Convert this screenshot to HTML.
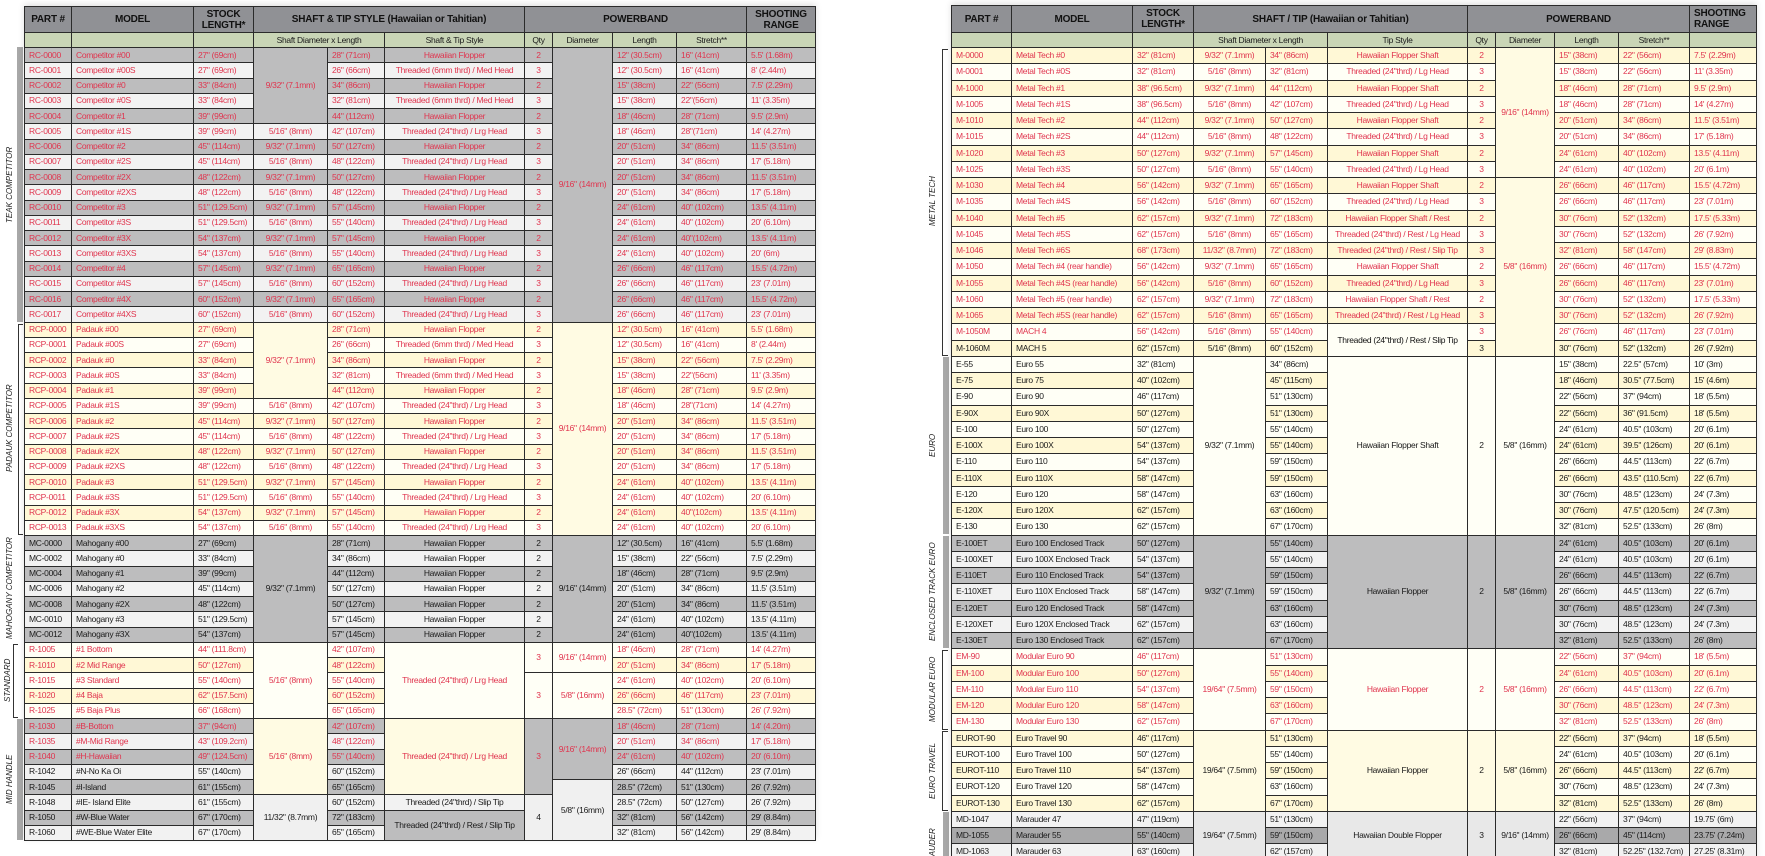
<!DOCTYPE html>
<html><head><meta charset="utf-8">
<style>
html,body{margin:0;padding:0;background:#fff;width:1765px;height:856px;overflow:hidden;position:relative}
table{position:absolute;border-collapse:collapse;table-layout:fixed;font-family:"Liberation Sans",sans-serif;font-size:8.5px;letter-spacing:-0.3px;color:#1a1a1a;box-shadow:0 -2px 6px rgba(0,0,0,0.12)}
td{border:1px solid #2b2b2b;padding:0 0 0 4px;white-space:nowrap;overflow:hidden;height:14px;line-height:13px}
#L tr.d{height:15.25px}
#R tr.d{height:16.25px}
.hd td{background:#909195;font-weight:bold;font-size:10px;letter-spacing:-0.2px;text-align:center;line-height:11px;color:#111;padding:0}
.sh td{background:#c9d5b6;text-align:center;padding:0;font-size:8.5px}
td.c{text-align:center;padding:0}
.g td{background:#bdbdbe}
.l td{background:#f2f2f2}
.w td{background:#fffff6}
.y td{background:#fff8d6}
.k td{background:#a9a9aa}
.r td{color:#e0344e}
.b td{color:#1a1a1a}
tr td.mg{background:#bdbdbe}
tr td.ml{background:#f0f0f0}
tr td.mc{background:#fffbe3}
tr td.mw{background:#fffff6}
tr td.me{background:#e8e8e8}
.lab{position:absolute;font-family:"Liberation Sans",sans-serif;font-style:italic;font-size:8px;color:#222;writing-mode:vertical-rl;transform:rotate(180deg);text-align:center;white-space:nowrap}
.bar{position:absolute;background:#a8a8a8}
.brk{position:absolute;border:1px solid #333;border-right:none}
</style></head><body>

<div class="bar" style="left:17px;top:47px;width:6px;height:275px"></div>
<div class="lab" style="left:5px;top:47px;height:275px;line-height:10px">TEAK COMPETITOR</div>
<div class="brk" style="left:18px;top:324px;width:4px;height:209px"></div>
<div class="lab" style="left:5px;top:322px;height:213px;line-height:10px">PADAUK COMPETITOR</div>
<div class="lab" style="left:5px;top:535px;height:107px;line-height:10px">MAHOGANY COMPETITOR</div>
<div class="brk" style="left:13px;top:644px;width:4px;height:72px"></div>
<div class="lab" style="left:3px;top:642px;height:76px;line-height:10px">STANDARD</div>
<div class="bar" style="left:17px;top:719px;width:6px;height:121px"></div>
<div class="lab" style="left:5px;top:718px;height:122px;line-height:10px">MID HANDLE</div>

<div class="brk" style="left:942px;top:49px;width:5px;height:305px"></div>
<div class="lab" style="left:928px;top:47px;height:309px;line-height:10px">METAL TECH</div>
<div class="bar" style="left:943px;top:357px;width:6px;height:177px"></div>
<div class="lab" style="left:928px;top:356px;height:179px;line-height:10px">EURO</div>
<div class="bar" style="left:943px;top:536px;width:6px;height:112px"></div>
<div class="lab" style="left:928px;top:535px;height:114px;line-height:10px">ENCLOSED TRACK EURO</div>
<div class="brk" style="left:942px;top:650px;width:5px;height:78px"></div>
<div class="lab" style="left:928px;top:649px;height:81px;line-height:10px">MODULAR EURO</div>
<div class="brk" style="left:942px;top:731px;width:5px;height:78px"></div>
<div class="lab" style="left:928px;top:730px;height:81px;line-height:10px">EURO TRAVEL</div>
<div class="bar" style="left:943px;top:812px;width:6px;height:50px"></div>
<div class="lab" style="left:928px;top:811px;height:80px;line-height:10px">MARAUDER</div>

<table id="L" style="left:24px;top:6px;width:791px">
<colgroup><col style="width:47px"><col style="width:122px"><col style="width:60px"><col style="width:74px"><col style="width:57px"><col style="width:140px"><col style="width:28px"><col style="width:60px"><col style="width:64px"><col style="width:70px"><col style="width:69px"></colgroup>
<tr class="hd" style="height:26px"><td>PART #</td><td>MODEL</td><td>STOCK<br>LENGTH*</td><td colspan="3">SHAFT &amp; TIP STYLE (Hawaiian or Tahitian)</td><td colspan="4">POWERBAND</td><td>SHOOTING<br>RANGE</td></tr>
<tr class="sh" style="height:15px"><td></td><td></td><td></td><td colspan="2">Shaft Diameter x Length</td><td>Shaft &amp; Tip Style</td><td>Qty</td><td>Diameter</td><td>Length</td><td>Stretch**</td><td></td></tr>

<tr class="d g r"><td>RC-0000</td><td>Competitor #00</td><td>27" (69cm)</td><td rowspan="5" class="c mg">9/32" (7.1mm)</td><td>28" (71cm)</td><td class="c">Hawaiian Flopper</td><td class="c">2</td><td rowspan="18" class="c mg">9/16" (14mm)</td><td>12" (30.5cm)</td><td>16" (41cm)</td><td>5.5' (1.68m)</td></tr>
<tr class="d l r"><td>RC-0001</td><td>Competitor #00S</td><td>27" (69cm)</td><td>26" (66cm)</td><td class="c">Threaded (6mm thrd) / Med Head</td><td class="c">3</td><td>12" (30.5cm)</td><td>16" (41cm)</td><td>8' (2.44m)</td></tr>
<tr class="d g r"><td>RC-0002</td><td>Competitor #0</td><td>33" (84cm)</td><td>34" (86cm)</td><td class="c">Hawaiian Flopper</td><td class="c">2</td><td>15" (38cm)</td><td>22" (56cm)</td><td>7.5' (2.29m)</td></tr>
<tr class="d l r"><td>RC-0003</td><td>Competitor #0S</td><td>33" (84cm)</td><td>32" (81cm)</td><td class="c">Threaded (6mm thrd) / Med Head</td><td class="c">3</td><td>15" (38cm)</td><td>22"(56cm)</td><td>11' (3.35m)</td></tr>
<tr class="d g r"><td>RC-0004</td><td>Competitor #1</td><td>39" (99cm)</td><td>44" (112cm)</td><td class="c">Hawaiian Flopper</td><td class="c">2</td><td>18" (46cm)</td><td>28" (71cm)</td><td>9.5' (2.9m)</td></tr>
<tr class="d l r"><td>RC-0005</td><td>Competitor #1S</td><td>39" (99cm)</td><td class="c">5/16" (8mm)</td><td>42" (107cm)</td><td class="c">Threaded (24"thrd) / Lrg Head</td><td class="c">3</td><td>18" (46cm)</td><td>28"(71cm)</td><td>14' (4.27m)</td></tr>
<tr class="d g r"><td>RC-0006</td><td>Competitor #2</td><td>45" (114cm)</td><td class="c">9/32" (7.1mm)</td><td>50" (127cm)</td><td class="c">Hawaiian Flopper</td><td class="c">2</td><td>20" (51cm)</td><td>34" (86cm)</td><td>11.5' (3.51m)</td></tr>
<tr class="d l r"><td>RC-0007</td><td>Competitor #2S</td><td>45" (114cm)</td><td class="c">5/16" (8mm)</td><td>48" (122cm)</td><td class="c">Threaded (24"thrd) / Lrg Head</td><td class="c">3</td><td>20" (51cm)</td><td>34" (86cm)</td><td>17' (5.18m)</td></tr>
<tr class="d g r"><td>RC-0008</td><td>Competitor #2X</td><td>48" (122cm)</td><td class="c">9/32" (7.1mm)</td><td>50" (127cm)</td><td class="c">Hawaiian Flopper</td><td class="c">2</td><td>20" (51cm)</td><td>34" (86cm)</td><td>11.5' (3.51m)</td></tr>
<tr class="d l r"><td>RC-0009</td><td>Competitor #2XS</td><td>48" (122cm)</td><td class="c">5/16" (8mm)</td><td>48" (122cm)</td><td class="c">Threaded (24"thrd) / Lrg Head</td><td class="c">3</td><td>20" (51cm)</td><td>34" (86cm)</td><td>17' (5.18m)</td></tr>
<tr class="d g r"><td>RC-0010</td><td>Competitor #3</td><td>51" (129.5cm)</td><td class="c">9/32" (7.1mm)</td><td>57" (145cm)</td><td class="c">Hawaiian Flopper</td><td class="c">2</td><td>24" (61cm)</td><td>40" (102cm)</td><td>13.5' (4.11m)</td></tr>
<tr class="d l r"><td>RC-0011</td><td>Competitor #3S</td><td>51" (129.5cm)</td><td class="c">5/16" (8mm)</td><td>55" (140cm)</td><td class="c">Threaded (24"thrd) / Lrg Head</td><td class="c">3</td><td>24" (61cm)</td><td>40" (102cm)</td><td>20' (6.10m)</td></tr>
<tr class="d g r"><td>RC-0012</td><td>Competitor #3X</td><td>54" (137cm)</td><td class="c">9/32" (7.1mm)</td><td>57" (145cm)</td><td class="c">Hawaiian Flopper</td><td class="c">2</td><td>24" (61cm)</td><td>40"(102cm)</td><td>13.5' (4.11m)</td></tr>
<tr class="d l r"><td>RC-0013</td><td>Competitor #3XS</td><td>54" (137cm)</td><td class="c">5/16" (8mm)</td><td>55" (140cm)</td><td class="c">Threaded (24"thrd) / Lrg Head</td><td class="c">3</td><td>24" (61cm)</td><td>40" (102cm)</td><td>20' (6m)</td></tr>
<tr class="d g r"><td>RC-0014</td><td>Competitor #4</td><td>57" (145cm)</td><td class="c">9/32" (7.1mm)</td><td>65" (165cm)</td><td class="c">Hawaiian Flopper</td><td class="c">2</td><td>26" (66cm)</td><td>46" (117cm)</td><td>15.5' (4.72m)</td></tr>
<tr class="d l r"><td>RC-0015</td><td>Competitor #4S</td><td>57" (145cm)</td><td class="c">5/16" (8mm)</td><td>60" (152cm)</td><td class="c">Threaded (24"thrd) / Lrg Head</td><td class="c">3</td><td>26" (66cm)</td><td>46" (117cm)</td><td>23' (7.01m)</td></tr>
<tr class="d g r"><td>RC-0016</td><td>Competitor #4X</td><td>60" (152cm)</td><td class="c">9/32" (7.1mm)</td><td>65" (165cm)</td><td class="c">Hawaiian Flopper</td><td class="c">2</td><td>26" (66cm)</td><td>46" (117cm)</td><td>15.5' (4.72m)</td></tr>
<tr class="d l r"><td>RC-0017</td><td>Competitor #4XS</td><td>60" (152cm)</td><td class="c">5/16" (8mm)</td><td>60" (152cm)</td><td class="c">Threaded (24"thrd) / Lrg Head</td><td class="c">3</td><td>26" (66cm)</td><td>46" (117cm)</td><td>23' (7.01m)</td></tr>

<tr class="d y r"><td>RCP-0000</td><td>Padauk #00</td><td>27" (69cm)</td><td rowspan="5" class="c mc">9/32" (7.1mm)</td><td>28" (71cm)</td><td class="c">Hawaiian Flopper</td><td class="c">2</td><td rowspan="14" class="c mc">9/16" (14mm)</td><td>12" (30.5cm)</td><td>16" (41cm)</td><td>5.5' (1.68m)</td></tr>
<tr class="d w r"><td>RCP-0001</td><td>Padauk #00S</td><td>27" (69cm)</td><td>26" (66cm)</td><td class="c">Threaded (6mm thrd) / Med Head</td><td class="c">3</td><td>12" (30.5cm)</td><td>16" (41cm)</td><td>8' (2.44m)</td></tr>
<tr class="d y r"><td>RCP-0002</td><td>Padauk #0</td><td>33" (84cm)</td><td>34" (86cm)</td><td class="c">Hawaiian Flopper</td><td class="c">2</td><td>15" (38cm)</td><td>22" (56cm)</td><td>7.5' (2.29m)</td></tr>
<tr class="d w r"><td>RCP-0003</td><td>Padauk #0S</td><td>33" (84cm)</td><td>32" (81cm)</td><td class="c">Threaded (6mm thrd) / Med Head</td><td class="c">3</td><td>15" (38cm)</td><td>22"(56cm)</td><td>11' (3.35m)</td></tr>
<tr class="d y r"><td>RCP-0004</td><td>Padauk #1</td><td>39" (99cm)</td><td>44" (112cm)</td><td class="c">Hawaiian Flopper</td><td class="c">2</td><td>18" (46cm)</td><td>28" (71cm)</td><td>9.5' (2.9m)</td></tr>
<tr class="d w r"><td>RCP-0005</td><td>Padauk #1S</td><td>39" (99cm)</td><td class="c">5/16" (8mm)</td><td>42" (107cm)</td><td class="c">Threaded (24"thrd) / Lrg Head</td><td class="c">3</td><td>18" (46cm)</td><td>28"(71cm)</td><td>14' (4.27m)</td></tr>
<tr class="d y r"><td>RCP-0006</td><td>Padauk #2</td><td>45" (114cm)</td><td class="c">9/32" (7.1mm)</td><td>50" (127cm)</td><td class="c">Hawaiian Flopper</td><td class="c">2</td><td>20" (51cm)</td><td>34" (86cm)</td><td>11.5' (3.51m)</td></tr>
<tr class="d w r"><td>RCP-0007</td><td>Padauk #2S</td><td>45" (114cm)</td><td class="c">5/16" (8mm)</td><td>48" (122cm)</td><td class="c">Threaded (24"thrd) / Lrg Head</td><td class="c">3</td><td>20" (51cm)</td><td>34" (86cm)</td><td>17' (5.18m)</td></tr>
<tr class="d y r"><td>RCP-0008</td><td>Padauk #2X</td><td>48" (122cm)</td><td class="c">9/32" (7.1mm)</td><td>50" (127cm)</td><td class="c">Hawaiian Flopper</td><td class="c">2</td><td>20" (51cm)</td><td>34" (86cm)</td><td>11.5' (3.51m)</td></tr>
<tr class="d w r"><td>RCP-0009</td><td>Padauk #2XS</td><td>48" (122cm)</td><td class="c">5/16" (8mm)</td><td>48" (122cm)</td><td class="c">Threaded (24"thrd) / Lrg Head</td><td class="c">3</td><td>20" (51cm)</td><td>34" (86cm)</td><td>17' (5.18m)</td></tr>
<tr class="d y r"><td>RCP-0010</td><td>Padauk #3</td><td>51" (129.5cm)</td><td class="c">9/32" (7.1mm)</td><td>57" (145cm)</td><td class="c">Hawaiian Flopper</td><td class="c">2</td><td>24" (61cm)</td><td>40" (102cm)</td><td>13.5' (4.11m)</td></tr>
<tr class="d w r"><td>RCP-0011</td><td>Padauk #3S</td><td>51" (129.5cm)</td><td class="c">5/16" (8mm)</td><td>55" (140cm)</td><td class="c">Threaded (24"thrd) / Lrg Head</td><td class="c">3</td><td>24" (61cm)</td><td>40" (102cm)</td><td>20' (6.10m)</td></tr>
<tr class="d y r"><td>RCP-0012</td><td>Padauk #3X</td><td>54" (137cm)</td><td class="c">9/32" (7.1mm)</td><td>57" (145cm)</td><td class="c">Hawaiian Flopper</td><td class="c">2</td><td>24" (61cm)</td><td>40"(102cm)</td><td>13.5' (4.11m)</td></tr>
<tr class="d w r"><td>RCP-0013</td><td>Padauk #3XS</td><td>54" (137cm)</td><td class="c">5/16" (8mm)</td><td>55" (140cm)</td><td class="c">Threaded (24"thrd) / Lrg Head</td><td class="c">3</td><td>24" (61cm)</td><td>40" (102cm)</td><td>20' (6.10m)</td></tr>

<tr class="d g b"><td>MC-0000</td><td>Mahogany #00</td><td>27" (69cm)</td><td rowspan="7" class="c mg">9/32" (7.1mm)</td><td>28" (71cm)</td><td class="c">Hawaiian Flopper</td><td class="c">2</td><td rowspan="7" class="c mg">9/16" (14mm)</td><td>12" (30.5cm)</td><td>16" (41cm)</td><td>5.5' (1.68m)</td></tr>
<tr class="d l b"><td>MC-0002</td><td>Mahogany #0</td><td>33" (84cm)</td><td>34" (86cm)</td><td class="c">Hawaiian Flopper</td><td class="c">2</td><td>15" (38cm)</td><td>22" (56cm)</td><td>7.5' (2.29m)</td></tr>
<tr class="d g b"><td>MC-0004</td><td>Mahogany #1</td><td>39" (99cm)</td><td>44" (112cm)</td><td class="c">Hawaiian Flopper</td><td class="c">2</td><td>18" (46cm)</td><td>28" (71cm)</td><td>9.5' (2.9m)</td></tr>
<tr class="d l b"><td>MC-0006</td><td>Mahogany #2</td><td>45" (114cm)</td><td>50" (127cm)</td><td class="c">Hawaiian Flopper</td><td class="c">2</td><td>20" (51cm)</td><td>34" (86cm)</td><td>11.5' (3.51m)</td></tr>
<tr class="d g b"><td>MC-0008</td><td>Mahogany #2X</td><td>48" (122cm)</td><td>50" (127cm)</td><td class="c">Hawaiian Flopper</td><td class="c">2</td><td>20" (51cm)</td><td>34" (86cm)</td><td>11.5' (3.51m)</td></tr>
<tr class="d l b"><td>MC-0010</td><td>Mahogany #3</td><td>51" (129.5cm)</td><td>57" (145cm)</td><td class="c">Hawaiian Flopper</td><td class="c">2</td><td>24" (61cm)</td><td>40" (102cm)</td><td>13.5' (4.11m)</td></tr>
<tr class="d g b"><td>MC-0012</td><td>Mahogany #3X</td><td>54" (137cm)</td><td>57" (145cm)</td><td class="c">Hawaiian Flopper</td><td class="c">2</td><td>24" (61cm)</td><td>40"(102cm)</td><td>13.5' (4.11m)</td></tr>

<tr class="d w r"><td>R-1005</td><td>#1 Bottom</td><td>44" (111.8cm)</td><td rowspan="5" class="c mw">5/16" (8mm)</td><td>42" (107cm)</td><td rowspan="5" class="c mw">Threaded (24"thrd) / Lrg Head</td><td rowspan="2" class="c mw">3</td><td rowspan="2" class="c mw">9/16" (14mm)</td><td>18" (46cm)</td><td>28" (71cm)</td><td>14' (4.27m)</td></tr>
<tr class="d y r"><td>R-1010</td><td>#2 Mid Range</td><td>50" (127cm)</td><td>48" (122cm)</td><td>20" (51cm)</td><td>34" (86cm)</td><td>17' (5.18m)</td></tr>
<tr class="d w r"><td>R-1015</td><td>#3 Standard</td><td>55" (140cm)</td><td>55" (140cm)</td><td rowspan="3" class="c mw">3</td><td rowspan="3" class="c mw">5/8" (16mm)</td><td>24" (61cm)</td><td>40" (102cm)</td><td>20' (6.10m)</td></tr>
<tr class="d y r"><td>R-1020</td><td>#4 Baja</td><td>62" (157.5cm)</td><td>60" (152cm)</td><td>26" (66cm)</td><td>46" (117cm)</td><td>23' (7.01m)</td></tr>
<tr class="d w r"><td>R-1025</td><td>#5 Baja Plus</td><td>66" (168cm)</td><td>65" (165cm)</td><td>28.5" (72cm)</td><td>51" (130cm)</td><td>26' (7.92m)</td></tr>

<tr class="d g r"><td>R-1030</td><td>#B-Bottom</td><td>37" (94cm)</td><td rowspan="5" class="c mc">5/16" (8mm)</td><td>42" (107cm)</td><td rowspan="5" class="c mc">Threaded (24"thrd) / Lrg Head</td><td rowspan="5" class="c mg">3</td><td rowspan="4" class="c mg">9/16" (14mm)</td><td>18" (46cm)</td><td>28" (71cm)</td><td>14' (4.20m)</td></tr>
<tr class="d l r"><td>R-1035</td><td>#M-Mid Range</td><td>43" (109.2cm)</td><td>48" (122cm)</td><td>20" (51cm)</td><td>34" (86cm)</td><td>17' (5.18m)</td></tr>
<tr class="d g r"><td>R-1040</td><td>#H-Hawaiian</td><td>49" (124.5cm)</td><td>55" (140cm)</td><td>24" (61cm)</td><td>40" (102cm)</td><td>20' (6.10m)</td></tr>
<tr class="d l b"><td>R-1042</td><td>#N-No Ka Oi</td><td>55" (140cm)</td><td>60" (152cm)</td><td>26" (66cm)</td><td>44" (112cm)</td><td>23' (7.01m)</td></tr>
<tr class="d g b"><td>R-1045</td><td>#I-Island</td><td>61" (155cm)</td><td>65" (165cm)</td><td rowspan="4" class="c ml">5/8" (16mm)</td><td>28.5" (72cm)</td><td>51" (130cm)</td><td>26' (7.92m)</td></tr>
<tr class="d l b"><td>R-1048</td><td>#IE- Island Elite</td><td>61" (155cm)</td><td rowspan="3" class="c ml">11/32" (8.7mm)</td><td>60" (152cm)</td><td class="c">Threaded (24"thrd) / Slip Tip</td><td rowspan="3" class="c ml">4</td><td>28.5" (72cm)</td><td>50" (127cm)</td><td>26' (7.92m)</td></tr>
<tr class="d g b"><td>R-1050</td><td>#W-Blue Water</td><td>67" (170cm)</td><td>72" (183cm)</td><td rowspan="2" class="c mg">Threaded (24"thrd) / Rest / Slip Tip</td><td>32" (81cm)</td><td>56" (142cm)</td><td>29' (8.84m)</td></tr>
<tr class="d l b"><td>R-1060</td><td>#WE-Blue Water Elite</td><td>67" (170cm)</td><td>65" (165cm)</td><td>32" (81cm)</td><td>56" (142cm)</td><td>29' (8.84m)</td></tr>
</table>

<table id="R" style="left:951px;top:5px;width:805px">
<colgroup><col style="width:60px"><col style="width:121px"><col style="width:61px"><col style="width:72px"><col style="width:62px"><col style="width:140px"><col style="width:28px"><col style="width:59px"><col style="width:64px"><col style="width:71px"><col style="width:67px"></colgroup>
<tr class="hd" style="height:27px"><td>PART #</td><td>MODEL</td><td>STOCK<br>LENGTH*</td><td colspan="3">SHAFT / TIP (Hawaiian or Tahitian)</td><td colspan="4">POWERBAND</td><td style="text-align:left;padding-left:4px">SHOOTING<br>RANGE</td></tr>
<tr class="sh" style="height:15px"><td></td><td></td><td></td><td colspan="2">Shaft Diameter x Length</td><td>Tip Style</td><td>Qty</td><td>Diameter</td><td>Length</td><td>Stretch**</td><td></td></tr>

<tr class="d y r"><td>M-0000</td><td>Metal Tech #0</td><td>32" (81cm)</td><td class="c">9/32" (7.1mm)</td><td>34" (86cm)</td><td class="c">Hawaiian Flopper Shaft</td><td class="c">2</td><td rowspan="8" class="c mc">9/16" (14mm)</td><td>15" (38cm)</td><td>22" (56cm)</td><td>7.5' (2.29m)</td></tr>
<tr class="d w r"><td>M-0001</td><td>Metal Tech #0S</td><td>32" (81cm)</td><td class="c">5/16" (8mm)</td><td>32" (81cm)</td><td class="c">Threaded (24"thrd) / Lg Head</td><td class="c">3</td><td>15" (38cm)</td><td>22" (56cm)</td><td>11' (3.35m)</td></tr>
<tr class="d y r"><td>M-1000</td><td>Metal Tech #1</td><td>38" (96.5cm)</td><td class="c">9/32" (7.1mm)</td><td>44" (112cm)</td><td class="c">Hawaiian Flopper Shaft</td><td class="c">2</td><td>18" (46cm)</td><td>28" (71cm)</td><td>9.5' (2.9m)</td></tr>
<tr class="d w r"><td>M-1005</td><td>Metal Tech #1S</td><td>38" (96.5cm)</td><td class="c">5/16" (8mm)</td><td>42" (107cm)</td><td class="c">Threaded (24"thrd) / Lg Head</td><td class="c">3</td><td>18" (46cm)</td><td>28" (71cm)</td><td>14' (4.27m)</td></tr>
<tr class="d y r"><td>M-1010</td><td>Metal Tech #2</td><td>44" (112cm)</td><td class="c">9/32" (7.1mm)</td><td>50" (127cm)</td><td class="c">Hawaiian Flopper Shaft</td><td class="c">2</td><td>20" (51cm)</td><td>34" (86cm)</td><td>11.5' (3.51m)</td></tr>
<tr class="d w r"><td>M-1015</td><td>Metal Tech #2S</td><td>44" (112cm)</td><td class="c">5/16" (8mm)</td><td>48" (122cm)</td><td class="c">Threaded (24"thrd) / Lg Head</td><td class="c">3</td><td>20" (51cm)</td><td>34" (86cm)</td><td>17' (5.18m)</td></tr>
<tr class="d y r"><td>M-1020</td><td>Metal Tech #3</td><td>50" (127cm)</td><td class="c">9/32" (7.1mm)</td><td>57" (145cm)</td><td class="c">Hawaiian Flopper Shaft</td><td class="c">2</td><td>24" (61cm)</td><td>40" (102cm)</td><td>13.5' (4.11m)</td></tr>
<tr class="d w r"><td>M-1025</td><td>Metal Tech #3S</td><td>50" (127cm)</td><td class="c">5/16" (8mm)</td><td>55" (140cm)</td><td class="c">Threaded (24"thrd) / Lg Head</td><td class="c">3</td><td>24" (61cm)</td><td>40" (102cm)</td><td>20' (6.1m)</td></tr>
<tr class="d y r"><td>M-1030</td><td>Metal Tech #4</td><td>56" (142cm)</td><td class="c">9/32" (7.1mm)</td><td>65" (165cm)</td><td class="c">Hawaiian Flopper Shaft</td><td class="c">2</td><td rowspan="11" class="c mc">5/8" (16mm)</td><td>26" (66cm)</td><td>46" (117cm)</td><td>15.5' (4.72m)</td></tr>
<tr class="d w r"><td>M-1035</td><td>Metal Tech #4S</td><td>56" (142cm)</td><td class="c">5/16" (8mm)</td><td>60" (152cm)</td><td class="c">Threaded (24"thrd) / Lg Head</td><td class="c">3</td><td>26" (66cm)</td><td>46" (117cm)</td><td>23' (7.01m)</td></tr>
<tr class="d y r"><td>M-1040</td><td>Metal Tech #5</td><td>62" (157cm)</td><td class="c">9/32" (7.1mm)</td><td>72" (183cm)</td><td class="c">Hawaiian Flopper Shaft / Rest</td><td class="c">2</td><td>30" (76cm)</td><td>52" (132cm)</td><td>17.5' (5.33m)</td></tr>
<tr class="d w r"><td>M-1045</td><td>Metal Tech #5S</td><td>62" (157cm)</td><td class="c">5/16" (8mm)</td><td>65" (165cm)</td><td class="c">Threaded (24"thrd) / Rest / Lg Head</td><td class="c">3</td><td>30" (76cm)</td><td>52" (132cm)</td><td>26' (7.92m)</td></tr>
<tr class="d y r"><td>M-1046</td><td>Metal Tech #6S</td><td>68" (173cm)</td><td class="c">11/32" (8.7mm)</td><td>72" (183cm)</td><td class="c">Threaded (24"thrd) / Rest / Slip Tip</td><td class="c">3</td><td>32" (81cm)</td><td>58" (147cm)</td><td>29' (8.83m)</td></tr>
<tr class="d w r"><td>M-1050</td><td>Metal Tech #4 (rear handle)</td><td>56" (142cm)</td><td class="c">9/32" (7.1mm)</td><td>65" (165cm)</td><td class="c">Hawaiian Flopper Shaft</td><td class="c">2</td><td>26" (66cm)</td><td>46" (117cm)</td><td>15.5' (4.72m)</td></tr>
<tr class="d y r"><td>M-1055</td><td>Metal Tech #4S (rear handle)</td><td>56" (142cm)</td><td class="c">5/16" (8mm)</td><td>60" (152cm)</td><td class="c">Threaded (24"thrd) / Lg Head</td><td class="c">3</td><td>26" (66cm)</td><td>46" (117cm)</td><td>23' (7.01m)</td></tr>
<tr class="d w r"><td>M-1060</td><td>Metal Tech #5 (rear handle)</td><td>62" (157cm)</td><td class="c">9/32" (7.1mm)</td><td>72" (183cm)</td><td class="c">Hawaiian Flopper Shaft / Rest</td><td class="c">2</td><td>30" (76cm)</td><td>52" (132cm)</td><td>17.5' (5.33m)</td></tr>
<tr class="d y r"><td>M-1065</td><td>Metal Tech #5S (rear handle)</td><td>62" (157cm)</td><td class="c">5/16" (8mm)</td><td>65" (165cm)</td><td class="c">Threaded (24"thrd) / Rest / Lg Head</td><td class="c">3</td><td>30" (76cm)</td><td>52" (132cm)</td><td>26' (7.92m)</td></tr>
<tr class="d w r"><td>M-1050M</td><td>MACH 4</td><td>56" (142cm)</td><td class="c">5/16" (8mm)</td><td>55" (140cm)</td><td rowspan="2" class="c mw" style="color:#111">Threaded (24"thrd) / Rest / Slip Tip</td><td class="c">3</td><td>26" (76cm)</td><td>46" (117cm)</td><td>23' (7.01m)</td></tr>
<tr class="d y b"><td>M-1060M</td><td>MACH 5</td><td>62" (157cm)</td><td class="c">5/16" (8mm)</td><td>60" (152cm)</td><td class="c">3</td><td>30" (76cm)</td><td>52" (132cm)</td><td>26' (7.92m)</td></tr>

<tr class="d w b"><td>E-55</td><td>Euro 55</td><td>32" (81cm)</td><td rowspan="11" class="c mw">9/32" (7.1mm)</td><td>34" (86cm)</td><td rowspan="11" class="c mw">Hawaiian Flopper Shaft</td><td rowspan="11" class="c mw">2</td><td rowspan="11" class="c mw">5/8" (16mm)</td><td>15" (38cm)</td><td>22.5" (57cm)</td><td>10' (3m)</td></tr>
<tr class="d y b"><td>E-75</td><td>Euro 75</td><td>40" (102cm)</td><td>45" (115cm)</td><td>18" (46cm)</td><td>30.5" (77.5cm)</td><td>15' (4.6m)</td></tr>
<tr class="d w b"><td>E-90</td><td>Euro 90</td><td>46" (117cm)</td><td>51" (130cm)</td><td>22" (56cm)</td><td>37" (94cm)</td><td>18' (5.5m)</td></tr>
<tr class="d y b"><td>E-90X</td><td>Euro 90X</td><td>50" (127cm)</td><td>51" (130cm)</td><td>22" (56cm)</td><td>36" (91.5cm)</td><td>18' (5.5m)</td></tr>
<tr class="d w b"><td>E-100</td><td>Euro 100</td><td>50" (127cm)</td><td>55" (140cm)</td><td>24" (61cm)</td><td>40.5" (103cm)</td><td>20' (6.1m)</td></tr>
<tr class="d y b"><td>E-100X</td><td>Euro 100X</td><td>54" (137cm)</td><td>55" (140cm)</td><td>24" (61cm)</td><td>39.5" (126cm)</td><td>20' (6.1m)</td></tr>
<tr class="d w b"><td>E-110</td><td>Euro 110</td><td>54" (137cm)</td><td>59" (150cm)</td><td>26" (66cm)</td><td>44.5" (113cm)</td><td>22' (6.7m)</td></tr>
<tr class="d y b"><td>E-110X</td><td>Euro 110X</td><td>58" (147cm)</td><td>59" (150cm)</td><td>26" (66cm)</td><td>43.5" (110.5cm)</td><td>22' (6.7m)</td></tr>
<tr class="d w b"><td>E-120</td><td>Euro 120</td><td>58" (147cm)</td><td>63" (160cm)</td><td>30" (76cm)</td><td>48.5" (123cm)</td><td>24' (7.3m)</td></tr>
<tr class="d y b"><td>E-120X</td><td>Euro 120X</td><td>62" (157cm)</td><td>63" (160cm)</td><td>30" (76cm)</td><td>47.5" (120.5cm)</td><td>24' (7.3m)</td></tr>
<tr class="d w b"><td>E-130</td><td>Euro 130</td><td>62" (157cm)</td><td>67" (170cm)</td><td>32" (81cm)</td><td>52.5" (133cm)</td><td>26' (8m)</td></tr>

<tr class="d g b"><td>E-100ET</td><td>Euro 100 Enclosed Track</td><td>50" (127cm)</td><td rowspan="7" class="c mg">9/32" (7.1mm)</td><td>55" (140cm)</td><td rowspan="7" class="c mg">Hawaiian Flopper</td><td rowspan="7" class="c mg">2</td><td rowspan="7" class="c mg">5/8" (16mm)</td><td>24" (61cm)</td><td>40.5" (103cm)</td><td>20' (6.1m)</td></tr>
<tr class="d l b"><td>E-100XET</td><td>Euro 100X Enclosed Track</td><td>54" (137cm)</td><td>55" (140cm)</td><td>24" (61cm)</td><td>40.5" (103cm)</td><td>20' (6.1m)</td></tr>
<tr class="d g b"><td>E-110ET</td><td>Euro 110 Enclosed Track</td><td>54" (137cm)</td><td>59" (150cm)</td><td>26" (66cm)</td><td>44.5" (113cm)</td><td>22' (6.7m)</td></tr>
<tr class="d l b"><td>E-110XET</td><td>Euro 110X Enclosed Track</td><td>58" (147cm)</td><td>59" (150cm)</td><td>26" (66cm)</td><td>44.5" (113cm)</td><td>22' (6.7m)</td></tr>
<tr class="d g b"><td>E-120ET</td><td>Euro 120 Enclosed Track</td><td>58" (147cm)</td><td>63" (160cm)</td><td>30" (76cm)</td><td>48.5" (123cm)</td><td>24' (7.3m)</td></tr>
<tr class="d l b"><td>E-120XET</td><td>Euro 120X Enclosed Track</td><td>62" (157cm)</td><td>63" (160cm)</td><td>30" (76cm)</td><td>48.5" (123cm)</td><td>24' (7.3m)</td></tr>
<tr class="d g b"><td>E-130ET</td><td>Euro 130 Enclosed Track</td><td>62" (157cm)</td><td>67" (170cm)</td><td>32" (81cm)</td><td>52.5" (133cm)</td><td>26' (8m)</td></tr>

<tr class="d w r"><td>EM-90</td><td>Modular Euro 90</td><td>46" (117cm)</td><td rowspan="5" class="c mw">19/64" (7.5mm)</td><td>51" (130cm)</td><td rowspan="5" class="c mw">Hawaiian Flopper</td><td rowspan="5" class="c mw">2</td><td rowspan="5" class="c mw">5/8" (16mm)</td><td>22" (56cm)</td><td>37" (94cm)</td><td>18' (5.5m)</td></tr>
<tr class="d y r"><td>EM-100</td><td>Modular Euro 100</td><td>50" (127cm)</td><td>55" (140cm)</td><td>24" (61cm)</td><td>40.5" (103cm)</td><td>20' (6.1m)</td></tr>
<tr class="d w r"><td>EM-110</td><td>Modular Euro 110</td><td>54" (137cm)</td><td>59" (150cm)</td><td>26" (66cm)</td><td>44.5" (113cm)</td><td>22' (6.7m)</td></tr>
<tr class="d y r"><td>EM-120</td><td>Modular Euro 120</td><td>58" (147cm)</td><td>63" (160cm)</td><td>30" (76cm)</td><td>48.5" (123cm)</td><td>24' (7.3m)</td></tr>
<tr class="d w r"><td>EM-130</td><td>Modular Euro 130</td><td>62" (157cm)</td><td>67" (170cm)</td><td>32" (81cm)</td><td>52.5" (133cm)</td><td>26' (8m)</td></tr>

<tr class="d y b"><td>EUROT-90</td><td>Euro Travel 90</td><td>46" (117cm)</td><td rowspan="5" class="c mc">19/64" (7.5mm)</td><td>51" (130cm)</td><td rowspan="5" class="c mc">Hawaiian Flopper</td><td rowspan="5" class="c mc">2</td><td rowspan="5" class="c mc">5/8" (16mm)</td><td>22" (56cm)</td><td>37" (94cm)</td><td>18' (5.5m)</td></tr>
<tr class="d w b"><td>EUROT-100</td><td>Euro Travel 100</td><td>50" (127cm)</td><td>55" (140cm)</td><td>24" (61cm)</td><td>40.5" (103cm)</td><td>20' (6.1m)</td></tr>
<tr class="d y b"><td>EUROT-110</td><td>Euro Travel 110</td><td>54" (137cm)</td><td>59" (150cm)</td><td>26" (66cm)</td><td>44.5" (113cm)</td><td>22' (6.7m)</td></tr>
<tr class="d w b"><td>EUROT-120</td><td>Euro Travel 120</td><td>58" (147cm)</td><td>63" (160cm)</td><td>30" (76cm)</td><td>48.5" (123cm)</td><td>24' (7.3m)</td></tr>
<tr class="d y b"><td>EUROT-130</td><td>Euro Travel 130</td><td>62" (157cm)</td><td>67" (170cm)</td><td>32" (81cm)</td><td>52.5" (133cm)</td><td>26' (8m)</td></tr>

<tr class="d l b"><td>MD-1047</td><td>Marauder 47</td><td>47" (119cm)</td><td rowspan="3" class="c me">19/64" (7.5mm)</td><td>51" (130cm)</td><td rowspan="3" class="c me">Hawaiian Double Flopper</td><td rowspan="3" class="c me">3</td><td rowspan="3" class="c me">9/16" (14mm)</td><td>22" (56cm)</td><td>37" (94cm)</td><td>19.75' (6m)</td></tr>
<tr class="d k b"><td>MD-1055</td><td>Marauder 55</td><td>55" (140cm)</td><td>59" (150cm)</td><td>26" (66cm)</td><td>45" (114cm)</td><td>23.75' (7.24m)</td></tr>
<tr class="d l b"><td>MD-1063</td><td>Marauder 63</td><td>63" (160cm)</td><td>62" (157cm)</td><td>32" (81cm)</td><td>52.25" (132.7cm)</td><td>27.25' (8.31m)</td></tr>
</table>
</body></html>
